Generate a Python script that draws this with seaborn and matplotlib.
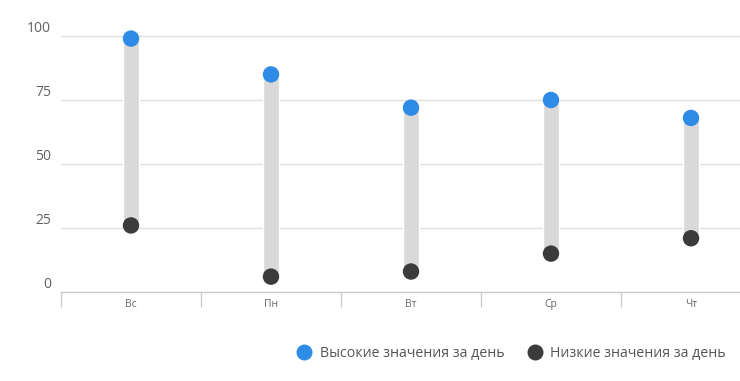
import matplotlib
matplotlib.use("Agg")
import matplotlib.pyplot as plt
from matplotlib.lines import Line2D
from matplotlib.transforms import ScaledTranslation
import seaborn as sns
import pandas as pd
import numpy as np

days = ["Вс", "Пн", "Вт", "Ср", "Чт"]
high = [99, 85, 72, 75, 68]
low = [26, 6, 8, 15, 21]
series_high = "Высокие значения за день"
series_low = "Низкие значения за день"
y_ticks = [0, 25, 50, 75, 100]

blue = "#2e8be6"
dark = "#3b3b3b"
bar_grey = "#d9d9d9"

sns.set_style("white")
plt.rcParams["font.family"] = ["Open Sans", "DejaVu Sans"]

pos = np.arange(len(days))
df = pd.DataFrame({
    "pos": np.concatenate([pos, pos]),
    "value": high + low,
    "series": [series_high] * len(days) + [series_low] * len(days),
})

W, H = 740, 381
fig = plt.figure(figsize=(W / 100, H / 100), dpi=100)
left_px, right_px, bottom_px, top_px = 61, 740, 292, 20
ax = fig.add_axes([left_px / W, 1 - bottom_px / H, (right_px - left_px) / W, (bottom_px - top_px) / H])

ax.bar(pos, np.array(high) - np.array(low), bottom=low, width=0.118, color=bar_grey, zorder=2)
sns.scatterplot(data=df, x="pos", y="value", hue="series", palette=[blue, dark],
                s=140, linewidth=0, ax=ax, zorder=3, legend=False)

ax.set_yticks(y_ticks)
ax.set_yticklabels([str(v) for v in y_ticks], fontsize=10, color="#606060")
ax.yaxis.grid(True, color="#dedede", linewidth=1)
ax.set_axisbelow(True)
ax.tick_params(axis="y", length=0, pad=7)
off = ScaledTranslation(0, 9.5 / 100, fig.dpi_scale_trans)
for lbl in ax.get_yticklabels():
    lbl.set_transform(lbl.get_transform() + off)

ax.set_xticks(pos)
ax.set_xticklabels(days, fontsize=7.5, color="#666666")
ax.set_xticks(np.arange(-0.5, len(days) + 0.5, 1), minor=True)
ax.tick_params(axis="x", which="both", bottom=True)
ax.tick_params(axis="x", which="major", length=0, pad=5)
ax.tick_params(axis="x", which="minor", length=11, color="#cccccc", width=1)

ppu = 140.0
ax.set_xlim(-0.5, -0.5 + (right_px - left_px) / ppu)
ax.set_ylim(0, (bottom_px - top_px) / 2.56)

for s in ["left", "right", "top"]:
    ax.spines[s].set_visible(False)
ax.spines["bottom"].set_color("#cccccc")
ax.spines["bottom"].set_linewidth(1)
ax.set_xlabel("")
ax.set_ylabel("")

handles = [
    Line2D([], [], marker="o", linestyle="", markersize=11.5, markerfacecolor=blue, markeredgewidth=0),
    Line2D([], [], marker="o", linestyle="", markersize=11.5, markerfacecolor=dark, markeredgewidth=0),
]
leg = fig.legend(handles, [series_high, series_low], loc="center right",
                 bbox_to_anchor=(726 / W, 1 - 353 / H), ncol=2, frameon=False,
                 fontsize=10.15, handletextpad=0.6, columnspacing=1.65, handlelength=1.0,
                 borderpad=0, borderaxespad=0)
for t in leg.get_texts():
    t.set_color("#555555")

fig.savefig("out.png", dpi=100)
